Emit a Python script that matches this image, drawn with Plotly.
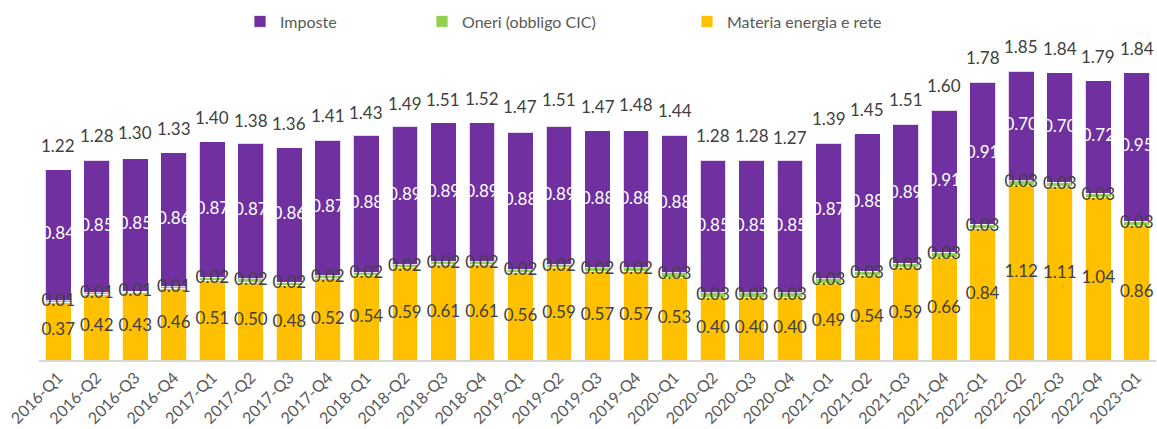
import plotly.graph_objects as go

quarters = [
    "2016-Q1", "2016-Q2", "2016-Q3", "2016-Q4",
    "2017-Q1", "2017-Q2", "2017-Q3", "2017-Q4",
    "2018-Q1", "2018-Q2", "2018-Q3", "2018-Q4",
    "2019-Q1", "2019-Q2", "2019-Q3", "2019-Q4",
    "2020-Q1", "2020-Q2", "2020-Q3", "2020-Q4",
    "2021-Q1", "2021-Q2", "2021-Q3", "2021-Q4",
    "2022-Q1", "2022-Q2", "2022-Q3", "2022-Q4",
    "2023-Q1",
]
materia = [0.37, 0.42, 0.43, 0.46, 0.51, 0.50, 0.48, 0.52, 0.54, 0.59,
           0.61, 0.61, 0.56, 0.59, 0.57, 0.57, 0.53, 0.40, 0.40, 0.40,
           0.49, 0.54, 0.59, 0.66, 0.84, 1.12, 1.11, 1.04, 0.86]
oneri = [0.01, 0.01, 0.01, 0.01, 0.02, 0.02, 0.02, 0.02, 0.02, 0.02,
         0.02, 0.02, 0.02, 0.02, 0.02, 0.02, 0.03, 0.03, 0.03, 0.03,
         0.03, 0.03, 0.03, 0.03, 0.03, 0.03, 0.03, 0.03, 0.03]
imposte = [0.84, 0.85, 0.85, 0.86, 0.87, 0.87, 0.86, 0.87, 0.88, 0.89,
           0.89, 0.89, 0.88, 0.89, 0.88, 0.88, 0.88, 0.85, 0.85, 0.85,
           0.87, 0.88, 0.89, 0.91, 0.91, 0.70, 0.70, 0.72, 0.95]
totali = [1.22, 1.28, 1.30, 1.33, 1.40, 1.38, 1.36, 1.41, 1.43, 1.49,
          1.51, 1.52, 1.47, 1.51, 1.47, 1.48, 1.44, 1.28, 1.28, 1.27,
          1.39, 1.45, 1.51, 1.60, 1.78, 1.85, 1.84, 1.79, 1.84]

C_MATERIA = "#FFC000"
C_ONERI = "#92D050"
C_IMPOSTE = "#7030A0"
C_TEXT = "#404040"
C_GREY = "#595959"
FONT = "Lato"
LABEL_SIZE = 17

fig = go.Figure()
bar_line = dict(color="rgba(255,255,255,0.8)", width=1)

fig.add_trace(go.Bar(x=quarters, y=materia, name="Materia energia e rete",
                     marker=dict(color=C_MATERIA, line=bar_line), legend="legend3"))
fig.add_trace(go.Bar(x=quarters, y=oneri, name="Oneri (obbligo CIC)",
                     marker=dict(color=C_ONERI, line=bar_line), legend="legend2"))
fig.add_trace(go.Bar(x=quarters, y=imposte, name="Imposte",
                     marker=dict(color=C_IMPOSTE, line=bar_line), legend="legend"))

# segment labels, centred on each segment
mid_materia = [m / 2 for m in materia]
mid_oneri = [m + o / 2 for m, o in zip(materia, oneri)]
mid_imposte = [m + o + i / 2 for m, o, i in zip(materia, oneri, imposte)]

for ys, vals, col in [(mid_materia, materia, C_TEXT),
                      (mid_oneri, oneri, C_TEXT),
                      (mid_imposte, imposte, "white")]:
    fig.add_trace(go.Scatter(x=quarters, y=ys, mode="text",
                             text=[f"{v:.2f}" for v in vals],
                             textfont=dict(family=FONT, size=LABEL_SIZE, color=col),
                             showlegend=False, hoverinfo="skip"))

# totals above each bar
for q, t in zip(quarters, totali):
    fig.add_annotation(x=q, y=t, text=f"{t:.2f}", showarrow=False,
                       yanchor="bottom", yshift=12,
                       font=dict(family=FONT, size=LABEL_SIZE, color=C_TEXT))

PLOT_W = 1157 - 39 - 1


def legend_at(px):
    return dict(orientation="h", x=(px - 39) / PLOT_W, xanchor="left",
                y=1.085, yanchor="middle", bgcolor="rgba(0,0,0,0)",
                font=dict(family=FONT, size=16, color=C_GREY),
                itemwidth=30)


fig.update_layout(
    width=1157, height=429,
    barmode="stack", bargap=0.33,
    plot_bgcolor="white", paper_bgcolor="white",
    margin=dict(l=39, r=1, t=48, b=69),
    font=dict(family=FONT, color=C_GREY),
    legend=legend_at(240),
    legend2=legend_at(422),
    legend3=legend_at(687),
    xaxis=dict(tickangle=-45, tickfont=dict(family=FONT, size=16, color=C_GREY),
               showline=True, linecolor="#D9D9D9", linewidth=2,
               ticks="", showgrid=False, range=[-0.5, len(quarters) - 0.5]),
    yaxis=dict(range=[0, 2.0], visible=False, showgrid=False),
)

fig.write_html("out.html")
